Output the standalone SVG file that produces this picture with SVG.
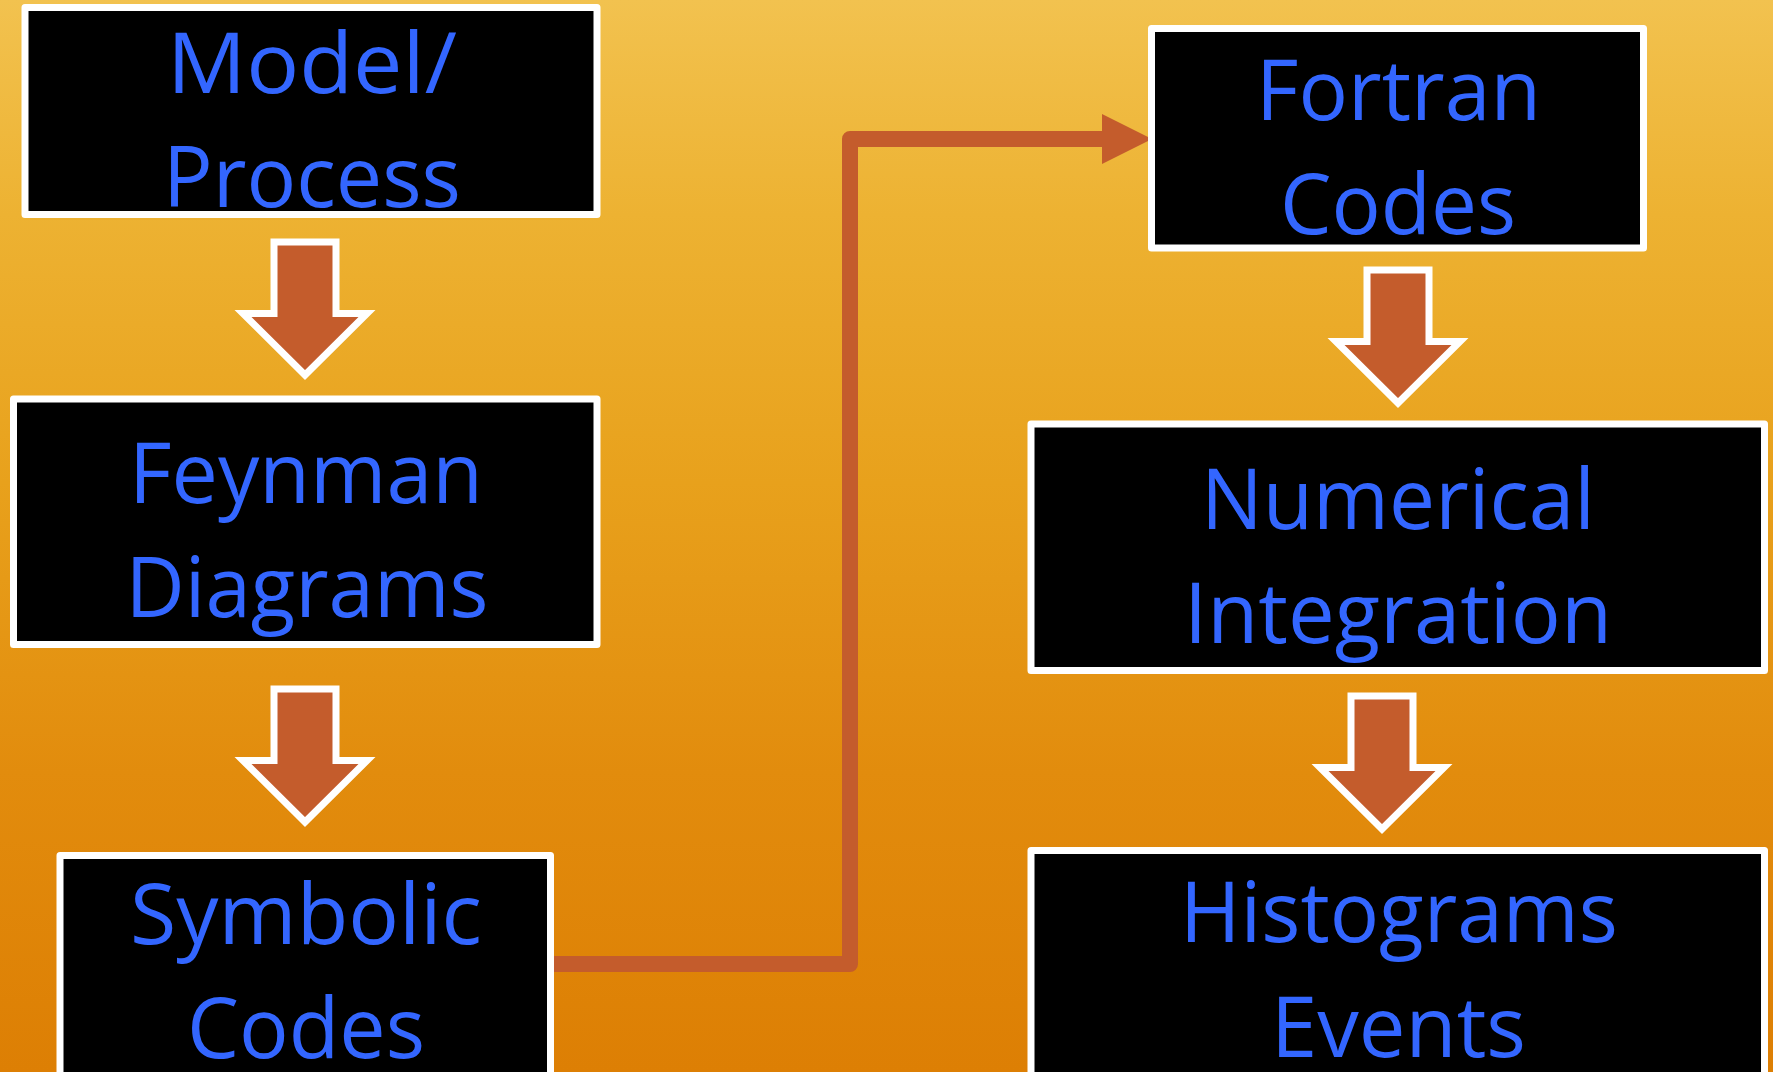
<svg xmlns="http://www.w3.org/2000/svg" xmlns:xlink="http://www.w3.org/1999/xlink" width="1773" height="1072" viewBox="0 0 1773 1072">
  <style>
    .box { fill: #000000; stroke: #FFFFFF; stroke-width: 7; stroke-linejoin: round; }
    .label { font-family: "Open Sans", "Noto Sans", "Liberation Sans", sans-serif; font-size: 85px; fill: #3366FF; text-anchor: middle; }
    .block { fill: #C45C2C; stroke: #FFFFFF; stroke-width: 7; }
    .elbow { fill: none; stroke: #C45C2C; stroke-width: 16; stroke-linejoin: round; }
  </style>
  <defs>
    <linearGradient id="bg" x1="0" y1="0" x2="0" y2="1">
      <stop offset="0" stop-color="#F2C24F"/>
      <stop offset="0.2" stop-color="#EDB232"/>
      <stop offset="0.45" stop-color="#E8A11C"/>
      <stop offset="0.72" stop-color="#E28C0D"/>
      <stop offset="1" stop-color="#DD7F04"/>
    </linearGradient>
    <path id="blockArrow" d="M -31,0 H 31 V 71.5 H 62 L 0,133 L -62,71.5 H -31 Z"/>
    <marker id="head" markerUnits="userSpaceOnUse" markerWidth="50" markerHeight="50" viewBox="0 0 49 49" refX="0" refY="24.5" orient="auto">
      <path d="M0,0 L49,24.5 L0,49 Z" fill="#C45C2C"/>
    </marker>
  </defs>

  <rect x="0" y="0" width="1773" height="1072" fill="url(#bg)"/>

  <g id="connectors">
    <use xlink:href="#blockArrow" class="block" x="305" y="242"/>
    <use xlink:href="#blockArrow" class="block" x="305" y="689"/>
    <use xlink:href="#blockArrow" class="block" x="1398" y="270"/>
    <use xlink:href="#blockArrow" class="block" x="1382" y="696"/>
    <path class="elbow" d="M 553,964 H 850 V 139 H 1102" marker-end="url(#head)"/>
  </g>

  <g id="node-model">
    <rect class="box" x="25" y="7.5" width="572" height="207"/>
    <text class="label" x="312" y="93" textLength="290" lengthAdjust="spacingAndGlyphs">Model/</text>
    <text class="label" x="312" y="207" textLength="298" lengthAdjust="spacingAndGlyphs">Process</text>
  </g>

  <g id="node-feynman">
    <rect class="box" x="13.5" y="399" width="583.5" height="245.5"/>
    <text class="label" x="306" y="503" textLength="354" lengthAdjust="spacingAndGlyphs">Feynman</text>
    <text class="label" x="307" y="617" textLength="363" lengthAdjust="spacingAndGlyphs">Diagrams</text>
  </g>

  <g id="node-symbolic">
    <rect class="box" x="60" y="855.5" width="490.5" height="240"/>
    <text class="label" x="306" y="944" textLength="352" lengthAdjust="spacingAndGlyphs">Symbolic</text>
    <text class="label" x="306" y="1058" textLength="238" lengthAdjust="spacingAndGlyphs">Codes</text>
  </g>

  <g id="node-fortran">
    <rect class="box" x="1151.5" y="28.5" width="492" height="219.5"/>
    <text class="label" x="1398.5" y="120" textLength="285" lengthAdjust="spacingAndGlyphs">Fortran</text>
    <text class="label" x="1398" y="234" textLength="236" lengthAdjust="spacingAndGlyphs">Codes</text>
  </g>

  <g id="node-numerical">
    <rect class="box" x="1031" y="424" width="733.5" height="246.5"/>
    <text class="label" x="1398" y="529" textLength="394" lengthAdjust="spacingAndGlyphs">Numerical</text>
    <text class="label" x="1398" y="643" textLength="428" lengthAdjust="spacingAndGlyphs">Integration</text>
  </g>

  <g id="node-histograms">
    <rect class="box" x="1031" y="850.5" width="733.5" height="240"/>
    <text class="label" x="1399" y="942" textLength="438" lengthAdjust="spacingAndGlyphs">Histograms</text>
    <text class="label" x="1398.5" y="1057" textLength="255" lengthAdjust="spacingAndGlyphs">Events</text>
  </g>
</svg>
